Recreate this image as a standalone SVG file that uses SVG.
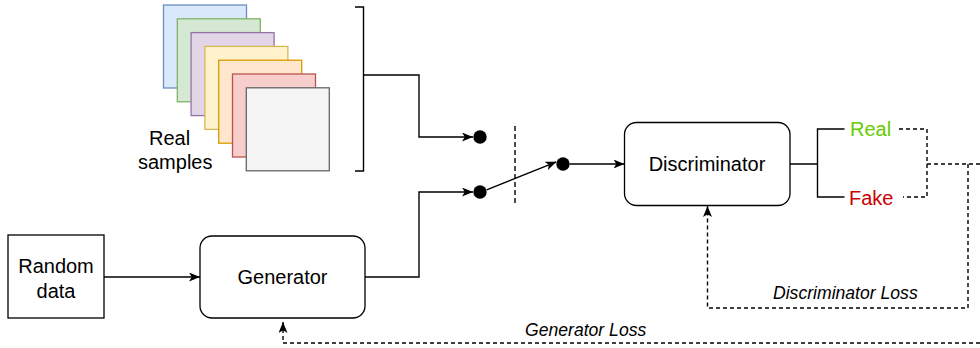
<svg xmlns="http://www.w3.org/2000/svg" width="980" height="348" viewBox="0 0 980 348">
<style>
text{font-family:"Liberation Sans",Arial,Helvetica,sans-serif;fill:#000}
.lbl{font-size:20px}
.loss{font-size:17.6px;font-style:italic}
.box{fill:#fff;stroke:#000;stroke-width:1.3}
.ln{fill:none;stroke:#000;stroke-width:1.4}
.dash{fill:none;stroke:#000;stroke-width:1.4;stroke-dasharray:4 3}
.dot{fill:#000}
</style>
<defs>
<marker id="arr" viewBox="0 0 11 9" refX="11" refY="4.5" markerWidth="11" markerHeight="9" markerUnits="userSpaceOnUse" orient="auto">
<path d="M0,0 L11,4.5 L0,9 L2.8,4.5 Z" fill="#000" stroke="none"/>
</marker>
</defs>
<g id="real-samples">
<rect x="163.5" y="5" width="83" height="83" fill="#dae8fc" stroke="#6c8ebf" stroke-width="1.3"/>
<rect x="177.3" y="18.8" width="83" height="83" fill="#d5e8d4" stroke="#82b366" stroke-width="1.3"/>
<rect x="191.1" y="32.6" width="83" height="83" fill="#e1d5e7" stroke="#9673a6" stroke-width="1.3"/>
<rect x="204.9" y="46.4" width="83" height="83" fill="#fff2cc" stroke="#d6b656" stroke-width="1.3"/>
<rect x="218.7" y="60.2" width="83" height="83" fill="#ffe6cc" stroke="#d79b00" stroke-width="1.3"/>
<rect x="232.5" y="74" width="83" height="83" fill="#f8cecc" stroke="#b85450" stroke-width="1.3"/>
<rect x="246.3" y="87.8" width="83" height="83" fill="#f5f5f5" stroke="#666666" stroke-width="1.3"/>
<text class="lbl" x="149" y="145">Real</text>
<text class="lbl" x="138" y="169">samples</text>
</g>
<g id="bracket">
<path class="ln" d="M355,7 H363.5 V171 H355"/>
</g>
<g id="random-data">
<rect class="box" x="8" y="235" width="96" height="83"/>
<text class="lbl" x="56" y="273" text-anchor="middle">Random</text>
<text class="lbl" x="56" y="298" text-anchor="middle">data</text>
</g>
<g id="generator">
<rect class="box" x="200" y="236" width="165" height="82" rx="12"/>
<text class="lbl" x="282.5" y="284" text-anchor="middle">Generator</text>
</g>
<g id="discriminator">
<rect class="box" x="624.5" y="122.5" width="165.5" height="83" rx="12"/>
<text class="lbl" x="707" y="171" text-anchor="middle">Discriminator</text>
</g>
<g id="switch">
<circle class="dot" cx="480" cy="137" r="6.7"/>
<circle class="dot" cx="480" cy="192" r="6.7"/>
<circle class="dot" cx="563" cy="164" r="6.7"/>
</g>
<g id="outputs">
<text class="lbl" x="850" y="136" style="fill:#66cc00">Real</text>
<text class="lbl" x="849" y="205" style="fill:#cc0000">Fake</text>
</g>
<g id="connectors">
<path class="ln" d="M363.5,75 H419 V137 H473" marker-end="url(#arr)"/>
<path class="ln" d="M365,277 H419 V192 H473" marker-end="url(#arr)"/>
<path class="ln" d="M104,277 H200" marker-end="url(#arr)"/>
<path class="ln" d="M486.6,189.8 L556.4,161.8" marker-end="url(#arr)"/>
<path class="ln" d="M569.7,164 H624.5" marker-end="url(#arr)"/>
<path class="dash" d="M515,126 V204" style="stroke-dasharray:5 3"/>
<path class="ln" d="M790,164 H817.5 M844.5,129 H817.5 V197 H844.5"/>
<path class="dash" d="M899,129 H927 V197 H903"/>
<path class="dash" d="M927,164 H990 V343 H283 V322" marker-end="url(#arr)"/>
<path class="dash" d="M968,164 V308 H707.5 V206" marker-end="url(#arr)"/>
<text class="loss" x="773" y="299">Discriminator Loss</text>
<text class="loss" x="525" y="336">Generator Loss</text>
</g>
</svg>
